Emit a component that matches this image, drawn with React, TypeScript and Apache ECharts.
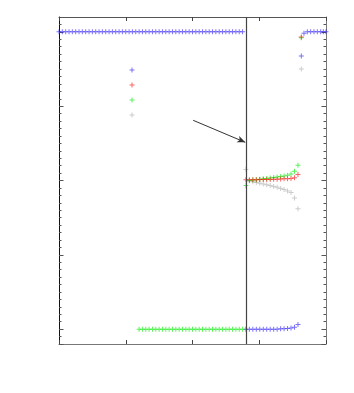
import React, { useEffect, useRef } from "react";
import * as echarts from "echarts";

// x grid, left part (before the jump at 2.8)
const xLeft = [0, 0.05, 0.1, 0.15, 0.2, 0.25, 0.3, 0.35, 0.4, 0.45, 0.5, 0.55, 0.6, 0.65, 0.7, 0.75, 0.8, 0.85, 0.9, 0.95, 1, 1.05, 1.1, 1.15, 1.2, 1.25, 1.3, 1.35, 1.4, 1.45, 1.5, 1.55, 1.6, 1.65, 1.7, 1.75, 1.8, 1.85, 1.9, 1.95, 2, 2.05, 2.1, 2.15, 2.2, 2.25, 2.3, 2.35, 2.4, 2.45, 2.5, 2.55, 2.6, 2.65, 2.7, 2.75];
// x grid, right part (after the vertical line)
const xRight = [2.8, 2.852, 2.904, 2.956, 3.008, 3.06, 3.112, 3.164, 3.216, 3.268, 3.32, 3.372, 3.424, 3.476, 3.528, 3.58];
const xJump = [3.63];
const xTop = [3.67, 3.72, 3.77, 3.82, 3.87, 3.92, 3.96, 4];

const blueLeft = [1, 1, 1, 1, 1, 1, 1, 1, 1, 1, 1, 1, 1, 1, 1, 1, 1, 1, 1, 1, 1, 1, 1, 1, 1, 1, 1, 1, 1, 1, 1, 1, 1, 1, 1, 1, 1, 1, 1, 1, 1, 1, 1, 1, 1, 1, 1, 1, 1, 1, 1, 1, 1, 1, 1, 1];
const greenLeft = [null, null, null, null, null, null, null, null, null, null, null, null, null, null, null, null, null, null, null, null, null, null, null, null, -1, -1, -1, -1, -1, -1, -1, -1, -1, -1, -1, -1, -1, -1, -1, -1, -1, -1, -1, -1, -1, -1, -1, -1, -1, -1, -1, -1, -1, -1, -1, -1];

const blueRight = [-1, -1, -1, -1, -1, -1, -1, -1, -1, -1, -0.998, -0.997, -0.995, -0.993, -0.988, -0.968];
const redRight = [0.005, 0.005, 0.005, 0.005, 0.006, 0.006, 0.007, 0.007, 0.008, 0.009, 0.01, 0.011, 0.012, 0.014, 0.018, 0.04];
const greenRight = [-0.034, 0.0, 0.003, 0.005, 0.008, 0.011, 0.013, 0.016, 0.02, 0.023, 0.027, 0.031, 0.036, 0.043, 0.063, 0.103];
const greyRight = [0.074, -0.004, -0.008, -0.013, -0.018, -0.023, -0.028, -0.034, -0.04, -0.046, -0.053, -0.061, -0.07, -0.08, -0.117, -0.19];

const blueJump = [0.838];
const redJump = [0.966];
const greenJump = [0.96];
const greyJump = [0.75];

const blueTop = [0.99, 1, 1, 1, 1, 1, 1, 1];

const vLineX = 2.8;
const arrowFrom = [2.01, 0.405];
const arrowTo = [2.79, 0.257];

const PLUS = "path://M2,0h1v2h2v1h-2v2h-1v-2h-2v-1h2z";

const zip = (xs: number[], ys: (number | null)[]) =>
  xs.map((x, i) => [x, ys[i]]).filter((p) => p[1] !== null && p[1] !== undefined);

export default function App() {
  const ref = useRef<HTMLDivElement>(null);
  useEffect(() => {
    if (!ref.current) return;
    const chart = echarts.init(ref.current, null, { renderer: "svg" });

    const mk = (name: string, color: string, data: any[], extra: any = {}) => ({
      name,
      type: "scatter",
      symbol: PLUS,
      symbolSize: 5,
      itemStyle: { color },
      data,
      ...extra,
    });

    const tickAxisY = (position: string, interval: number | undefined, len: number, showLine: boolean, lineColor: string) => ({
      type: "value",
      position,
      min: -1.1,
      max: 1.1,
      ...(interval ? { interval } : { splitNumber: 4 }),
      axisLine: { show: showLine, onZero: false, lineStyle: { color: lineColor, width: 1 } },
      axisTick: { show: true, inside: true, length: len, lineStyle: { color: "#555", width: 1 } },
      axisLabel: { show: false },
      splitLine: { show: false },
    });

    const tickAxisX = (position: string, lineColor: string) => ({
      type: "value",
      position,
      min: 0,
      max: 4,
      interval: 1,
      axisLine: { show: true, onZero: false, lineStyle: { color: lineColor, width: 1 } },
      axisTick: { show: true, inside: true, length: 4, lineStyle: { color: "#444", width: 1 } },
      axisLabel: { show: false },
      splitLine: { show: false },
    });

    chart.setOption({
      animation: false,
      backgroundColor: "#ffffff",
      grid: { left: 59, top: 17, right: 28, bottom: 49, containLabel: false },
      xAxis: [tickAxisX("bottom", "#777"), tickAxisX("top", "#555")],
      yAxis: [
        tickAxisY("left", 0.05, 2.5, true, "#111"),
        tickAxisY("right", 0.05, 2.5, true, "#777"),
        tickAxisY("left", undefined, 4.5, false, "#111"),
        tickAxisY("right", undefined, 4.5, false, "#777"),
      ],
      legend: {
        show: true,
        orient: "vertical",
        left: 124.5,
        top: 62.5,
        itemWidth: 5,
        itemHeight: 5,
        itemGap: 10,
        icon: PLUS,
        formatter: () => "",
        textStyle: { fontSize: 5, lineHeight: 5 },
        data: ["blue", "red", "green", "grey"],
        selectedMode: false,
      },
      series: [
        mk("grey", "rgba(175,175,175,0.8)", [
          ...zip(xRight, greyRight),
          ...zip(xJump, greyJump),
        ]),
        mk("green", "rgba(0,235,0,0.8)", [
          ...zip(xLeft, greenLeft),
          ...zip(xRight, greenRight),
          ...zip(xJump, greenJump),
        ]),
        mk("red", "rgba(255,0,0,0.75)", [
          ...zip(xRight, redRight),
          ...zip(xJump, redJump),
        ]),
        mk("blue", "rgba(50,35,245,0.8)", [
          ...zip(xLeft, blueLeft),
          ...zip(xRight, blueRight),
          ...zip(xJump, blueJump),
          ...zip(xTop, blueTop),
        ], {
          markLine: {
            silent: true,
            symbol: ["none", "none"],
            label: { show: false },
            lineStyle: { color: "#333", type: "solid", width: 1 },
            data: [
              { xAxis: vLineX, lineStyle: { color: "#444", width: 1.2 } },
              [
                { coord: arrowFrom, symbol: "none" },
                { coord: arrowTo, symbol: "arrow", symbolSize: [5, 8] },
              ],
            ],
          },
        }),
      ],
    });
    return () => chart.dispose();
  }, []);
  return <div ref={ref} style={{ position: "absolute", left: 0, top: 0, width: 354, height: 393 }} />;
}
